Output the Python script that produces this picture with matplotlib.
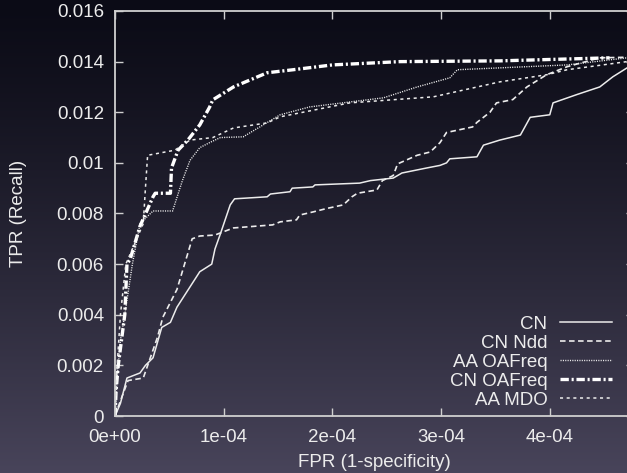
import numpy as np
import matplotlib.pyplot as plt
from matplotlib.ticker import FuncFormatter, MultipleLocator

cn_x = [0, 0.05, 0.11, 0.17, 0.23, 0.28, 0.35, 0.43, 0.51, 0.57, 0.66, 0.78, 0.89, 0.92,
        0.97, 1.06, 1.10, 1.40, 1.43, 1.61, 1.63, 1.82, 1.84, 2.25, 2.35, 2.56, 2.64, 2.87,
        2.99, 3.05, 3.08, 3.33, 3.39, 3.54, 3.73, 3.82, 4.0, 4.03, 4.25, 4.46, 4.58, 4.71, 4.78]
cn_y = [0, 0.0005, 0.0015, 0.0016, 0.0017, 0.0020, 0.0023, 0.0035, 0.0037, 0.0043, 0.0049,
        0.0057, 0.0060, 0.0066, 0.0072, 0.00834, 0.00858, 0.00866, 0.00877, 0.00886, 0.0090,
        0.00905, 0.00913, 0.0092, 0.0093, 0.0094, 0.0096, 0.0098, 0.0099, 0.0100, 0.01016,
        0.01024, 0.0107, 0.0109, 0.0111, 0.0118, 0.0119, 0.01237, 0.0127, 0.0130, 0.0134,
        0.01375, 0.0139]

ndd_x = [0, 0.05, 0.12, 0.26, 0.39, 0.44, 0.57, 0.71, 0.78, 0.92, 1.09, 1.45, 1.52, 1.67,
         1.70, 1.82, 1.95, 2.10, 2.18, 2.23, 2.41, 2.46, 2.56, 2.60, 2.78, 2.90, 2.99, 3.05,
         3.29, 3.33, 3.45, 3.51, 3.66, 3.79, 3.97, 4.16, 4.46, 4.78]
ndd_y = [0, 0.0006, 0.0014, 0.0015, 0.0031, 0.0039, 0.0050, 0.0070, 0.00711, 0.00715,
         0.00743, 0.00755, 0.00767, 0.00775, 0.00794, 0.00806, 0.0082, 0.00834, 0.00866,
         0.0088, 0.00893, 0.0093, 0.0095, 0.00996, 0.0103, 0.01043, 0.0108, 0.0112, 0.01142,
         0.0116, 0.0120, 0.01237, 0.0125, 0.0130, 0.01348, 0.0138, 0.01415, 0.01418]

oaf_x = [0, 0.02, 0.05, 0.09, 0.16, 0.23, 0.35, 0.53, 0.62, 0.69, 0.78, 0.87, 0.97, 1.18,
         1.52, 1.79, 2.47, 2.78, 3.08, 3.15, 4.16, 4.71, 4.78]
oaf_y = [0, 0.0015, 0.0030, 0.0040, 0.0060, 0.0076, 0.0081, 0.0081, 0.0093, 0.0101, 0.0106,
         0.0108, 0.0110, 0.01103, 0.0119, 0.01221, 0.01257, 0.0130, 0.01336, 0.01368,
         0.01387, 0.01415, 0.01418]

cnoaf_x = [0, 0.01, 0.03, 0.09, 0.11, 0.14, 0.23, 0.35, 0.37, 0.51, 0.52, 0.58, 0.67, 0.78,
           0.87, 0.90, 1.09, 1.40, 1.64, 2.0, 2.62, 3.54, 4.55]
cnoaf_y = [0, 0.0010, 0.0020, 0.0040, 0.0060, 0.0062, 0.0075, 0.00866, 0.0088, 0.0088,
           0.0098, 0.0105, 0.0109, 0.0115, 0.0122, 0.01249, 0.0130, 0.01356, 0.01368,
           0.01387, 0.0140, 0.01403, 0.01415]

mdo_x = [0, 0.01, 0.02, 0.05, 0.10, 0.20, 0.26, 0.28, 0.30, 0.55, 0.69, 0.90, 1.09, 1.40,
         1.52, 2.16, 2.93, 3.54, 3.97, 4.16, 4.71, 4.78]
mdo_y = [0, 0.0010, 0.0020, 0.0040, 0.0060, 0.0070, 0.0076, 0.0090, 0.0103, 0.0105, 0.0109,
         0.0110, 0.01138, 0.01158, 0.01182, 0.01237, 0.01261, 0.0132, 0.01348, 0.01368,
         0.0140, 0.01405]

labels = ['CN', 'CN Ndd', 'AA OAFreq', 'CN OAFreq', 'AA MDO']

plt.rcParams['font.family'] = ['Liberation Sans', 'DejaVu Sans']
plt.rcParams['lines.scale_dashes'] = False
fg = '#ececec'
fs = 13.5

fig = plt.figure(figsize=(6.27, 4.73), dpi=100)

# gradient background, dark navy at the top to greyish purple at the bottom
bg = fig.add_axes([0, 0, 1, 1], zorder=-10)
top = np.array([11, 11, 22]) / 255.0
bot = np.array([72, 68, 90]) / 255.0
t = np.linspace(0, 1, 256)[:, None] ** 1.25
grad = top[None, :] * (1 - t) + bot[None, :] * t
bg.imshow(grad[:, None, :], aspect='auto', extent=[0, 1, 0, 1])
bg.axis('off')

ax = fig.add_axes([115 / 627, 57 / 473, 519 / 627, 405 / 473])
ax.patch.set_alpha(0)

sc = 1e-4
ax.plot(np.array(cn_x) * sc, cn_y, color=fg, lw=1.1, label=labels[0])
ax.plot(np.array(ndd_x) * sc, ndd_y, color=fg, lw=1.2, linestyle=(0, (4, 2.5)), label=labels[1])
ax.plot(np.array(oaf_x) * sc, oaf_y, color=fg, lw=1.0, linestyle=(0, (0.8, 0.9)), label=labels[2])
ax.plot(np.array(cnoaf_x) * sc, cnoaf_y, color='white', lw=2.4,
        linestyle=(0, (6, 2, 1.5, 2)), label=labels[3])
ax.plot(np.array(mdo_x) * sc, mdo_y, color=fg, lw=1.1, linestyle=(0, (2.2, 2.6)), label=labels[4])

ax.set_xlim(0, 4.775e-4)
ax.set_ylim(0, 0.016)
ax.xaxis.set_major_locator(MultipleLocator(1e-4))
ax.yaxis.set_major_locator(MultipleLocator(0.002))
ax.xaxis.set_major_formatter(FuncFormatter(lambda v, p: f"{v:.0e}"))
ax.yaxis.set_major_formatter(FuncFormatter(lambda v, p: f"{v:g}"))

for s in ax.spines.values():
    s.set_color('#d0d0d0')
    s.set_linewidth(1.3)
ax.tick_params(direction='in', length=6, width=1, color='#d0d0d0', labelcolor=fg,
               labelsize=fs, top=True, right=True)
ax.tick_params(axis='x', pad=9)
ax.tick_params(axis='y', pad=8)

ax.set_xlabel('FPR (1-specificity)', color=fg, fontsize=fs, labelpad=6)
ax.set_ylabel('TPR (Recall)', color=fg, fontsize=fs, labelpad=21)

leg = ax.legend(loc='lower right', bbox_to_anchor=(612 / 627, 64 / 473),
                bbox_transform=fig.transFigure, frameon=False, markerfirst=False,
                fontsize=fs, handlelength=2.8, handletextpad=0.65, labelspacing=0.1,
                borderpad=0, borderaxespad=0)
for txt in leg.get_texts():
    txt.set_color(fg)
    txt.set_ha('right')

fig.savefig('out.png', dpi=100)
